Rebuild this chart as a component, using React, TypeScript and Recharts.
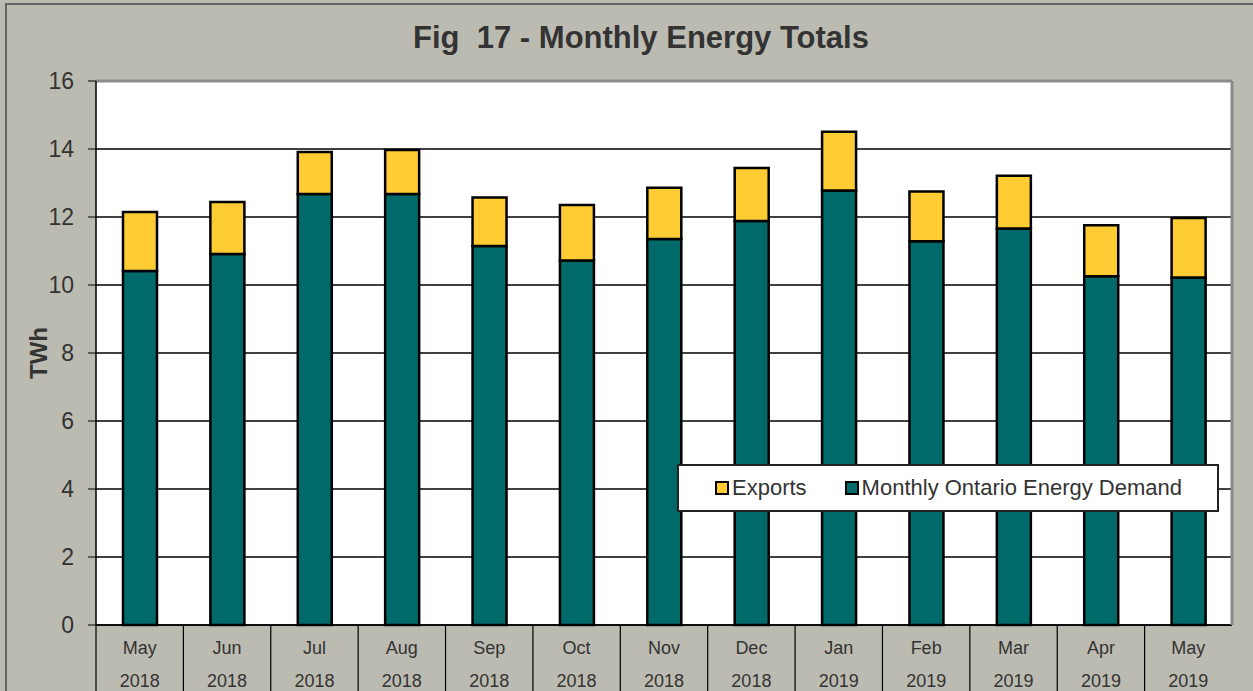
import { BarChart, Bar, XAxis, YAxis, CartesianGrid, Legend, ReferenceLine } from 'recharts';

const months = ['May', 'Jun', 'Jul', 'Aug', 'Sep', 'Oct', 'Nov', 'Dec', 'Jan', 'Feb', 'Mar', 'Apr', 'May'];
const years = ['2018', '2018', '2018', '2018', '2018', '2018', '2018', '2018', '2019', '2019', '2019', '2019', '2019'];
const demand = [10.41, 10.91, 12.68, 12.68, 11.15, 10.72, 11.35, 11.88, 12.78, 11.29, 11.66, 10.26, 10.22];
const exportsTwh = [1.74, 1.53, 1.23, 1.29, 1.42, 1.63, 1.51, 1.56, 1.73, 1.46, 1.55, 1.50, 1.75];
const yTicks = [0, 2, 4, 6, 8, 10, 12, 14, 16];

const data = months.map((m, i) => ({
  key: `${m} ${years[i]}`,
  demand: demand[i],
  exports: exportsTwh[i],
}));

const FONT = '"Liberation Sans", Arial, sans-serif';
const BG = '#bcbbb1';
const TEAL = '#006a6b';
const YELLOW = '#ffcc33';

// two-line category label with separators between categories
function MonthTick(props: any) {
  const { x, y, payload } = props;
  const [m, yr] = String(payload.value).split(' ');
  const half = payload.offset ?? 43.7;
  return (
    <g>
      <line x1={x - half} x2={x - half} y1={y} y2={y + 70} stroke="#000" strokeWidth={1.2} />
      <text x={x} y={y + 29} textAnchor="middle" fontSize={18} fill="#333" fontFamily={FONT}>{m}</text>
      <text x={x} y={y + 62} textAnchor="middle" fontSize={18} fill="#333" fontFamily={FONT}>{yr}</text>
    </g>
  );
}

function LegendBox({ payload }: any) {
  const items = [...(payload || [])].sort((a: any) => (a.value === 'Exports' ? -1 : 1));
  return (
    <div style={{
      width: 542, height: 48, background: '#fff', border: '2px solid #222',
      display: 'flex', alignItems: 'center', justifyContent: 'flex-start', gap: 38, paddingLeft: 36,
      fontFamily: FONT, fontSize: 22, color: '#333', boxSizing: 'border-box',
    }}>
      {items.map((it: any) => (
        <div key={it.value} style={{ display: 'flex', alignItems: 'center' }}>
          <span style={{ width: 10, height: 10, background: it.color, border: '2px solid #000', marginRight: 3, display: 'inline-block' }} />
          {it.value}
        </div>
      ))}
    </div>
  );
}

export default function App() {
  return (
    <div style={{ position: 'absolute', left: 0, top: 0, width: 1253, height: 691, background: BG, overflow: 'hidden' }}>
      <div style={{ position: 'absolute', left: 5, top: 3, width: 1300, height: 720, border: '2px solid #666' }} />
      <div style={{
        position: 'absolute', left: 0, top: 20, width: 1282, textAlign: 'center', whiteSpace: 'pre',
        fontFamily: FONT, fontWeight: 'bold', fontSize: 31, color: '#333',
      }}>
        Fig  17 - Monthly Energy Totals
      </div>
      <div style={{ position: 'absolute', left: 0, top: 0 }}>
        <BarChart width={1253} height={691} data={data} margin={{ top: 81, right: 0, left: 0, bottom: 0 }} barSize={34}>
          <CartesianGrid vertical={false} stroke="#000" strokeWidth={1.3} fill="#fff" fillOpacity={1} />
          <XAxis dataKey="key" interval={0} height={66} tickSize={0} tickMargin={0} tickLine={false}
            axisLine={{ stroke: '#000', strokeWidth: 1.5 }} tick={<MonthTick />} />
          <YAxis domain={[0, 16]} ticks={yTicks} width={96} tickSize={8} tickMargin={14}
            axisLine={{ stroke: '#000', strokeWidth: 1.5 }} tickLine={{ stroke: '#000' }}
            tick={{ fontSize: 23, fill: '#333', fontFamily: FONT }}
            label={{ value: 'TWh', angle: -90, position: 'center', dx: -10, style: { fontSize: 24, fontWeight: 'bold', fill: '#333', fontFamily: FONT } }} />
          <YAxis yAxisId="r" orientation="right" width={21} tick={false} tickLine={false}
            axisLine={{ stroke: '#8a8a8a', strokeWidth: 3 }} />
          <ReferenceLine y={16} stroke="#8a8a8a" strokeWidth={3} />
          <Legend layout="horizontal" verticalAlign="middle" content={<LegendBox />}
            wrapperStyle={{ position: 'absolute', left: 677, top: 464, width: 542 }} />
          <Bar dataKey="demand" name="Monthly Ontario Energy Demand" stackId="a" fill={TEAL} stroke="#000" strokeWidth={2.5} isAnimationActive={false} />
          <Bar dataKey="exports" name="Exports" stackId="a" fill={YELLOW} stroke="#000" strokeWidth={2.5} isAnimationActive={false} />
        </BarChart>
      </div>
    </div>
  );
}
